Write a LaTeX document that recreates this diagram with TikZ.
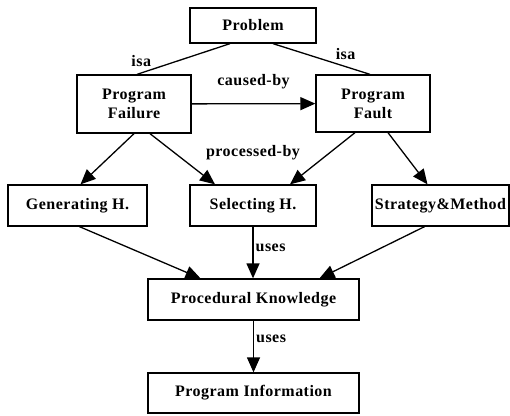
\documentclass[tikz,border=0pt]{standalone}
\usepackage{fontspec}
\setmainfont{Liberation Serif}[LetterSpace=3]
\usetikzlibrary{arrows.meta}
\usetikzlibrary{positioning}
\tikzset{box node/.style={rectangle,draw,line width=1.3pt,inner sep=0pt,align=center,font=\fontsize{16}{19}\selectfont\bfseries},
lbl/.style={font=\fontsize{16}{19}\selectfont\bfseries,inner sep=2pt},}

\begin{document}
\begin{tikzpicture}[x=1pt,y=-1pt]
   \useasboundingbox (0,0) rectangle (510,415);
   \node[box node,minimum width=126pt,minimum height=35pt] (prob) at (253,25.5) {Problem};
    \node[box node,minimum width=114pt,minimum height=58pt] (fail) at (134,104) {Program\\Failure};
    \node[box node,minimum width=114pt,minimum height=57pt] (fault) at (373,103.5) {Program\\Fault};
    \node[box node,minimum width=139pt,minimum height=41pt] (gen) at (77.5,205.5) {Generating H.};
    \node[box node,minimum width=126pt,minimum height=41pt] (sel) at (253,205.5) {Selecting H.};
    \node[box node,minimum width=137pt,minimum height=41pt] (strat) at (440.5,205.5) {Strategy\&Method};
    \node[box node,minimum width=211pt,minimum height=41pt] (proc) at (253.5,299.5) {Procedural Knowledge};
    \node[box node,minimum width=211pt,minimum height=40pt] (info) at (253.5,393) {Program Information};
    \node[lbl] (procby) at (253,153) {processed-by};

    \path[line width=1.3pt]
    ([xshift=-23pt]prob.south) edge node[lbl,pos=0.82,above left] {isa} ([xshift=3pt]fail.north)
    ([xshift=20pt]prob.south) edge node[lbl,pos=0.62,above right] {isa} ([xshift=-3pt]fault.north);

    \path[-{Triangle[length=15pt,width=13pt]},line width=1.3pt]
    (fail) edge node[lbl,above=12pt] {caused-by} (fault)
    (fail.south) edge ([xshift=3pt]gen.north)
    ([xshift=16pt]fail.south) edge ([xshift=-38pt]sel.north)
    ([xshift=-18pt]fault.south) edge ([xshift=37pt]sel.north)
    ([xshift=15pt]fault.south) edge ([xshift=-13pt]strat.north)
    ([xshift=2pt]gen.south) edge ([xshift=-53pt]proc.north)
    (sel) edge node[lbl,right,pos=0.4] {uses} (sel|-proc.north)
    ([xshift=-16pt]strat.south) edge ([xshift=66pt]proc.north)
    (proc) edge node[lbl,right,pos=0.35] {uses} (proc|-info.north);
  \end{tikzpicture}
\end{document}
